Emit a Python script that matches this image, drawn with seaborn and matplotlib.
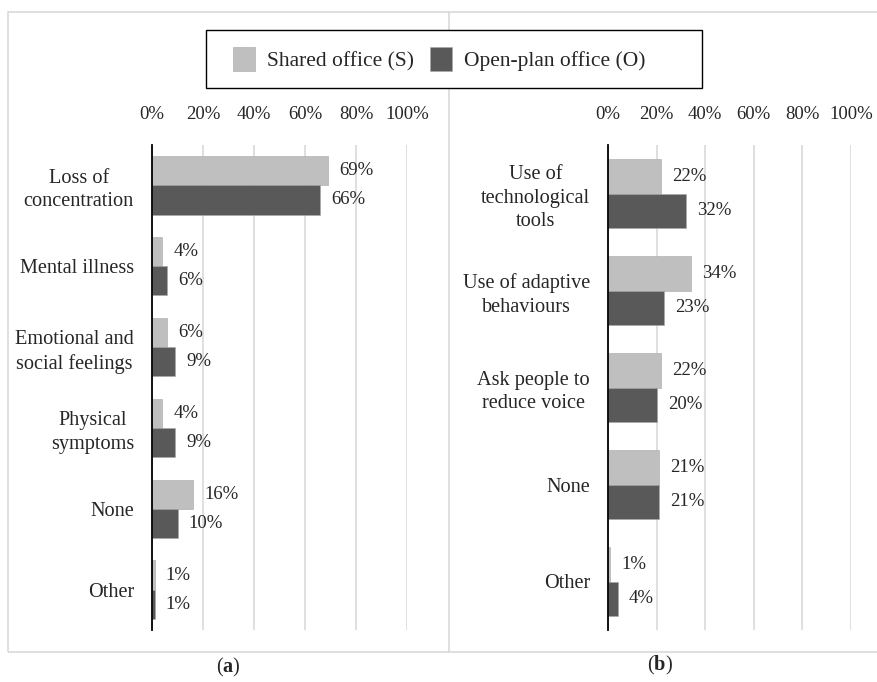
import seaborn as sns
import matplotlib.pyplot as plt
import pandas as pd
from matplotlib.patches import Rectangle
from matplotlib.lines import Line2D

# data
series = ["Shared office (S)", "Open-plan office (O)"]
cats_a = ["Loss of\nconcentration", "Mental illness", "Emotional and\nsocial feelings",
          "Physical\nsymptoms", "None", "Other"]
shared_a = [69, 4, 6, 4, 16, 1]
open_a = [66, 6, 9, 9, 10, 1]

cats_b = ["Use of\ntechnological\ntools", "Use of adaptive\nbehaviours",
          "Ask people to\nreduce voice", "None", "Other"]
shared_b = [22, 34, 22, 21, 1]
open_b = [32, 23, 20, 21, 4]

ticks = [0, 20, 40, 60, 80, 100]
colors = ["#bfbfbf", "#595959"]

sns.set_style("white")
plt.rcParams["font.family"] = ["Liberation Serif", "DejaVu Serif"]
plt.rcParams["mathtext.fontset"] = "custom"
plt.rcParams["mathtext.rm"] = "Liberation Serif"
plt.rcParams["mathtext.bf"] = "Liberation Serif:bold"

fs = 13.5      # numbers
fs_txt = 14.6  # words
fs_leg = 15.5

fig = plt.figure(figsize=(8.77, 6.82), dpi=100)

# outer frame and divider
fig.add_artist(Rectangle((8 / 877, 1 - 652 / 682), 1.0, 640 / 682, transform=fig.transFigure,
                         fill=False, edgecolor="#d9d9d9", lw=1.2))
fig.add_artist(Line2D([449 / 877, 449 / 877], [1 - 652 / 682, 1 - 12 / 682],
                      transform=fig.transFigure, color="#d9d9d9", lw=1.2))


def panel(rect, cats, s_vals, o_vals):
    ax = fig.add_axes(rect)
    df = pd.DataFrame({
        "cat": cats * 2,
        "val": s_vals + o_vals,
        "grp": [series[0]] * len(cats) + [series[1]] * len(cats),
    })
    sns.barplot(data=df, x="val", y="cat", hue="grp", orient="h", palette=colors,
                width=0.72, edgecolor="#a8a8a8", linewidth=0.4, ax=ax, legend=False)
    ax.set_xlim(0, 100)
    ax.set_xticks(ticks)
    ax.set_xticklabels([f"{t}%" for t in ticks])
    ax.xaxis.tick_top()
    ax.tick_params(axis="x", length=0, pad=16, labelsize=fs)
    ax.tick_params(axis="y", length=0, pad=13, labelsize=fs_txt)
    for lab in ax.get_yticklabels():
        lab.set_multialignment("center")
        lab.set_linespacing(1.3)
    ax.grid(axis="x", color="#d9d9d9", lw=1.2)
    ax.set_axisbelow(True)
    for s in ["top", "right", "bottom"]:
        ax.spines[s].set_visible(False)
    ax.spines["left"].set_color("black")
    ax.spines["left"].set_linewidth(1.3)
    ax.spines["left"].set_zorder(5)
    ax.set_xlabel("")
    ax.set_ylabel("")
    for cont, vals in zip(ax.containers, [s_vals, o_vals]):
        ax.bar_label(cont, labels=[f"{v}%" for v in vals], padding=8, fontsize=fs)
    return ax


ax1 = panel([152 / 877, 1 - 630 / 682, 255 / 877, 485 / 682], cats_a, shared_a, open_a)
ax2 = panel([608 / 877, 1 - 630 / 682, 243 / 877, 485 / 682], cats_b, shared_b, open_b)

# legend box drawn separately so the padding matches the reference
fig.add_artist(Rectangle((206 / 877, 1 - 88 / 682), 496 / 877, 58 / 682,
                         transform=fig.transFigure, fill=True, facecolor="white",
                         edgecolor="black", lw=1.0, zorder=3))
handles = [Rectangle((0, 0), 1, 1, facecolor=c, edgecolor="#a8a8a8", lw=0.4) for c in colors]
leg = fig.legend(handles, series, loc="center left",
                 bbox_to_anchor=(233 / 877, 1 - 59 / 682),
                 ncol=2, fontsize=fs_leg, frameon=False,
                 handlelength=1.02, handleheight=1.35, handletextpad=0.56, columnspacing=0.75,
                 borderpad=0, borderaxespad=0)
leg.set_zorder(4)

fig.text(228 / 877, 1 - 667 / 682, r"($\mathbf{a}$)", ha="center", va="center", fontsize=fs_txt)
fig.text(660 / 877, 1 - 665 / 682, r"($\mathbf{b}$)", ha="center", va="center", fontsize=fs_txt)

fig.savefig("out.png", dpi=100)
